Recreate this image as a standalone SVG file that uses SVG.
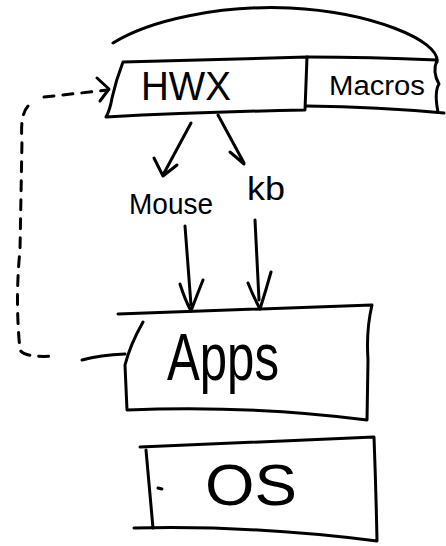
<svg xmlns="http://www.w3.org/2000/svg" width="446" height="546" viewBox="0 0 446 546">
<style>
.s{fill:none;stroke:#000;stroke-width:3;stroke-linecap:round;stroke-linejoin:round}
.d{stroke-dasharray:10 9}
.t{font-family:"Liberation Sans",Arial,sans-serif;fill:#000}
</style>
<rect width="446" height="546" fill="#fff"/>
<g id="hwx">
<path class="s" d="M123,62 L307,57 L305,110 Q200,112 106,117 Q110,110 112,98 Q116,80 123,62"/>
<text class="t" x="141" y="100" font-size="40" textLength="90" lengthAdjust="spacingAndGlyphs">HWX</text>
</g>
<g id="macros">
<path class="s" d="M307,57 Q370,57 437,60 M306,106 Q380,107 444,113 M437,60 Q432,72 439,84 Q434,92 438,112"/>
<path class="s" d="M113,43 C150,20 220,5 290,8 C370,12 440,40 437,62"/>
<text class="t" x="329" y="95" font-size="27" textLength="96" lengthAdjust="spacingAndGlyphs">Macros</text>
</g>
<g id="mouse">
<text class="t" x="129" y="214" font-size="30" textLength="84" lengthAdjust="spacingAndGlyphs">Mouse</text>
</g>
<g id="kb">
<text class="t" x="247" y="200" font-size="34" textLength="38" lengthAdjust="spacingAndGlyphs">kb</text>
</g>
<g id="apps">
<path class="s" d="M118,314 L372,305 Q366,330 368,360 L367,420 Q250,405 127,410 L125,365 Q130,345 143,322"/>
<text class="t" x="167" y="380" font-size="66" textLength="112" lengthAdjust="spacingAndGlyphs">Apps</text>
</g>
<g id="os">
<path class="s" d="M140,447 L374,437 Q376,490 377,541 Q250,525 134,528"/>
<path class="s" d="M146,450 L153,528" stroke-width="5"/>
<path class="s" d="M158,488 L162,489" stroke-width="2"/>
<text class="t" x="205" y="505" font-size="58" textLength="92" lengthAdjust="spacingAndGlyphs">OS</text>
</g>
<g id="connectors">
<path class="s" d="M191,123 L163,175 M154,158 L163,176 L177,165"/>
<path class="s" d="M218,115 L244,163 M230,152 L244,164"/>
<path class="s" d="M185,226 L191,305 M180,284 Q185,300 191,311 Q197,295 203,280"/>
<path class="s" d="M255,220 L259,300 M248,283 Q254,298 260,309 Q266,290 271,272"/>
<path class="s d" d="M44,97 L108,90"/>
<path class="s" d="M97,78 L109,89 L100,101"/>
<path class="s d" d="M28,106 Q20,115 22,140 L20,250 Q15,300 20,350 Q25,358 55,356"/>
<path class="s" d="M82,360 Q100,355 125,354"/>
</g>
</svg>
